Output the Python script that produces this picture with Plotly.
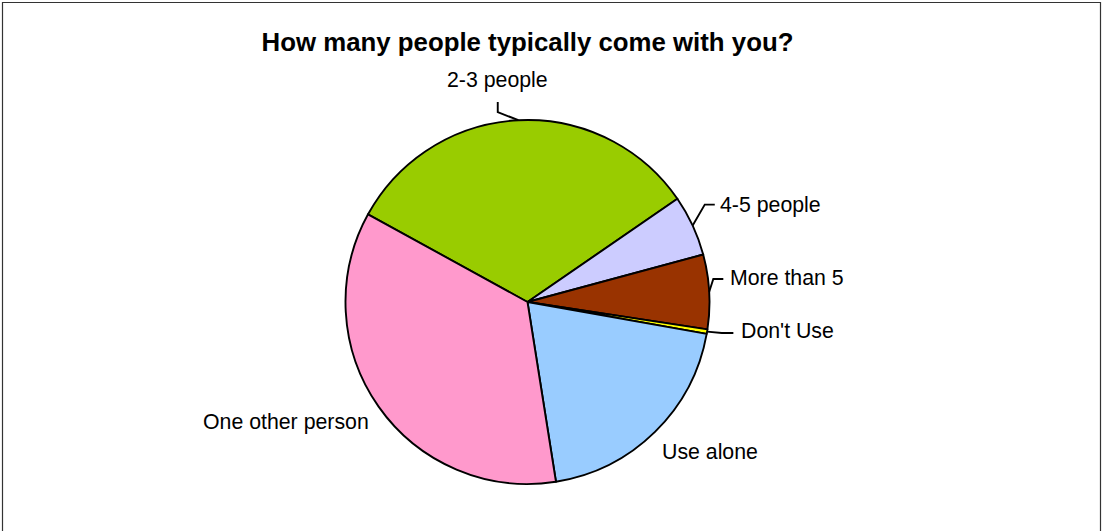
import math
import plotly.graph_objects as go

# ---- data ----
categories = ["2-3 people", "4-5 people", "More than 5", "Don't Use", "Use alone", "One other person"]
values = [32.4, 5.4, 6.6, 0.4, 19.7, 35.5]
colors = ["#99CC00", "#CCCCFF", "#993300", "#FFFF00", "#99CCFF", "#FF99CC"]
title_text = "How many people typically come with you?"

# ---- layout constants (pixels) ----
W, H = 1103, 531
CX, CY, R = 527.5, 302.0, 182.0
ROTATION = -61.2  # start angle of first slice, clockwise from 12 o'clock

# label offsets from slice mid-edge point: (dx, dy, xanchor, leader path points relative to edge)
label_style = {
    "2-3 people": (-20.6, -40.0, "center", [(-20.6, -8.2), (-20.6, -18.2)]),
    "4-5 people": (25.4, -20.6, "left", [(12.1, -20.9), (22.1, -20.9)]),
    "More than 5": (19.1, -13.7, "left", [(4.1, -12.7), (14.1, -12.7)]),
    "Don't Use": (32.0, -0.2, "left", [(14.7, 1.4), (26.3, 1.4)]),
    "One other person": (-92.3, 15.0, "center", None),
    "Use alone": (54.7, 20.0, "center", None),
}

FONT = "Liberation Sans, Arial, sans-serif"


def px(x):
    return x / W


def py(y):
    return 1 - y / H


fig = go.Figure(
    go.Pie(
        labels=categories,
        values=values,
        sort=False,
        direction="clockwise",
        rotation=ROTATION,
        marker=dict(colors=colors, line=dict(color="#000000", width=1.9)),
        textinfo="none",
        hoverinfo="label+percent",
        showlegend=False,
        domain=dict(x=[px(CX - R), px(CX + R)], y=[py(CY + R), py(CY - R)]),
    )
)

total = sum(values)
start = ROTATION
annotations = []
shapes = []
for cat, v in zip(categories, values):
    span = v / total * 360.0
    mid = math.radians(start + span / 2)
    start += span
    ex = CX + R * math.sin(mid)
    ey = CY - R * math.cos(mid)
    dx, dy, xa, leader = label_style[cat]
    annotations.append(
        dict(
            x=px(ex + dx), y=py(ey + dy), xref="paper", yref="paper",
            text=cat, showarrow=False, xanchor=xa, yanchor="middle",
            font=dict(family=FONT, size=21.3, color="#000000"),
        )
    )
    if leader:
        pts = [(ex, ey)] + [(ex + a, ey + b) for a, b in leader]
        path = "M " + " L ".join(f"{px(x):.5f},{py(y):.5f}" for x, y in pts)
        shapes.append(dict(type="path", xref="paper", yref="paper", path=path,
                           line=dict(color="#000000", width=1.9)))

# chart-area border (left, top, right; bottom runs off the image)
bx0, by0, bx1, by1 = 2.5, 2.5, 1100.5, 540
shapes.append(dict(
    type="path", xref="paper", yref="paper",
    path=f"M {px(bx0)},{py(by1)} L {px(bx0)},{py(by0)} L {px(bx1)},{py(by0)} L {px(bx1)},{py(by1)}",
    line=dict(color="#333333", width=1.2),
))

fig.update_layout(
    width=W, height=H,
    margin=dict(l=0, r=0, t=0, b=0),
    paper_bgcolor="#FFFFFF",
    plot_bgcolor="#FFFFFF",
    title=dict(
        text=title_text, x=px(527.5), xanchor="center",
        y=py(42), yanchor="middle", yref="container",
        font=dict(family=FONT, size=25.8, color="#000000", weight="bold"),
    ),
    annotations=annotations,
    shapes=shapes,
)

fig.write_html(
    "out.html",
    config={"displayModeBar": False},
    post_script="document.body.style.margin='0px';document.body.style.overflow='hidden';",
)
